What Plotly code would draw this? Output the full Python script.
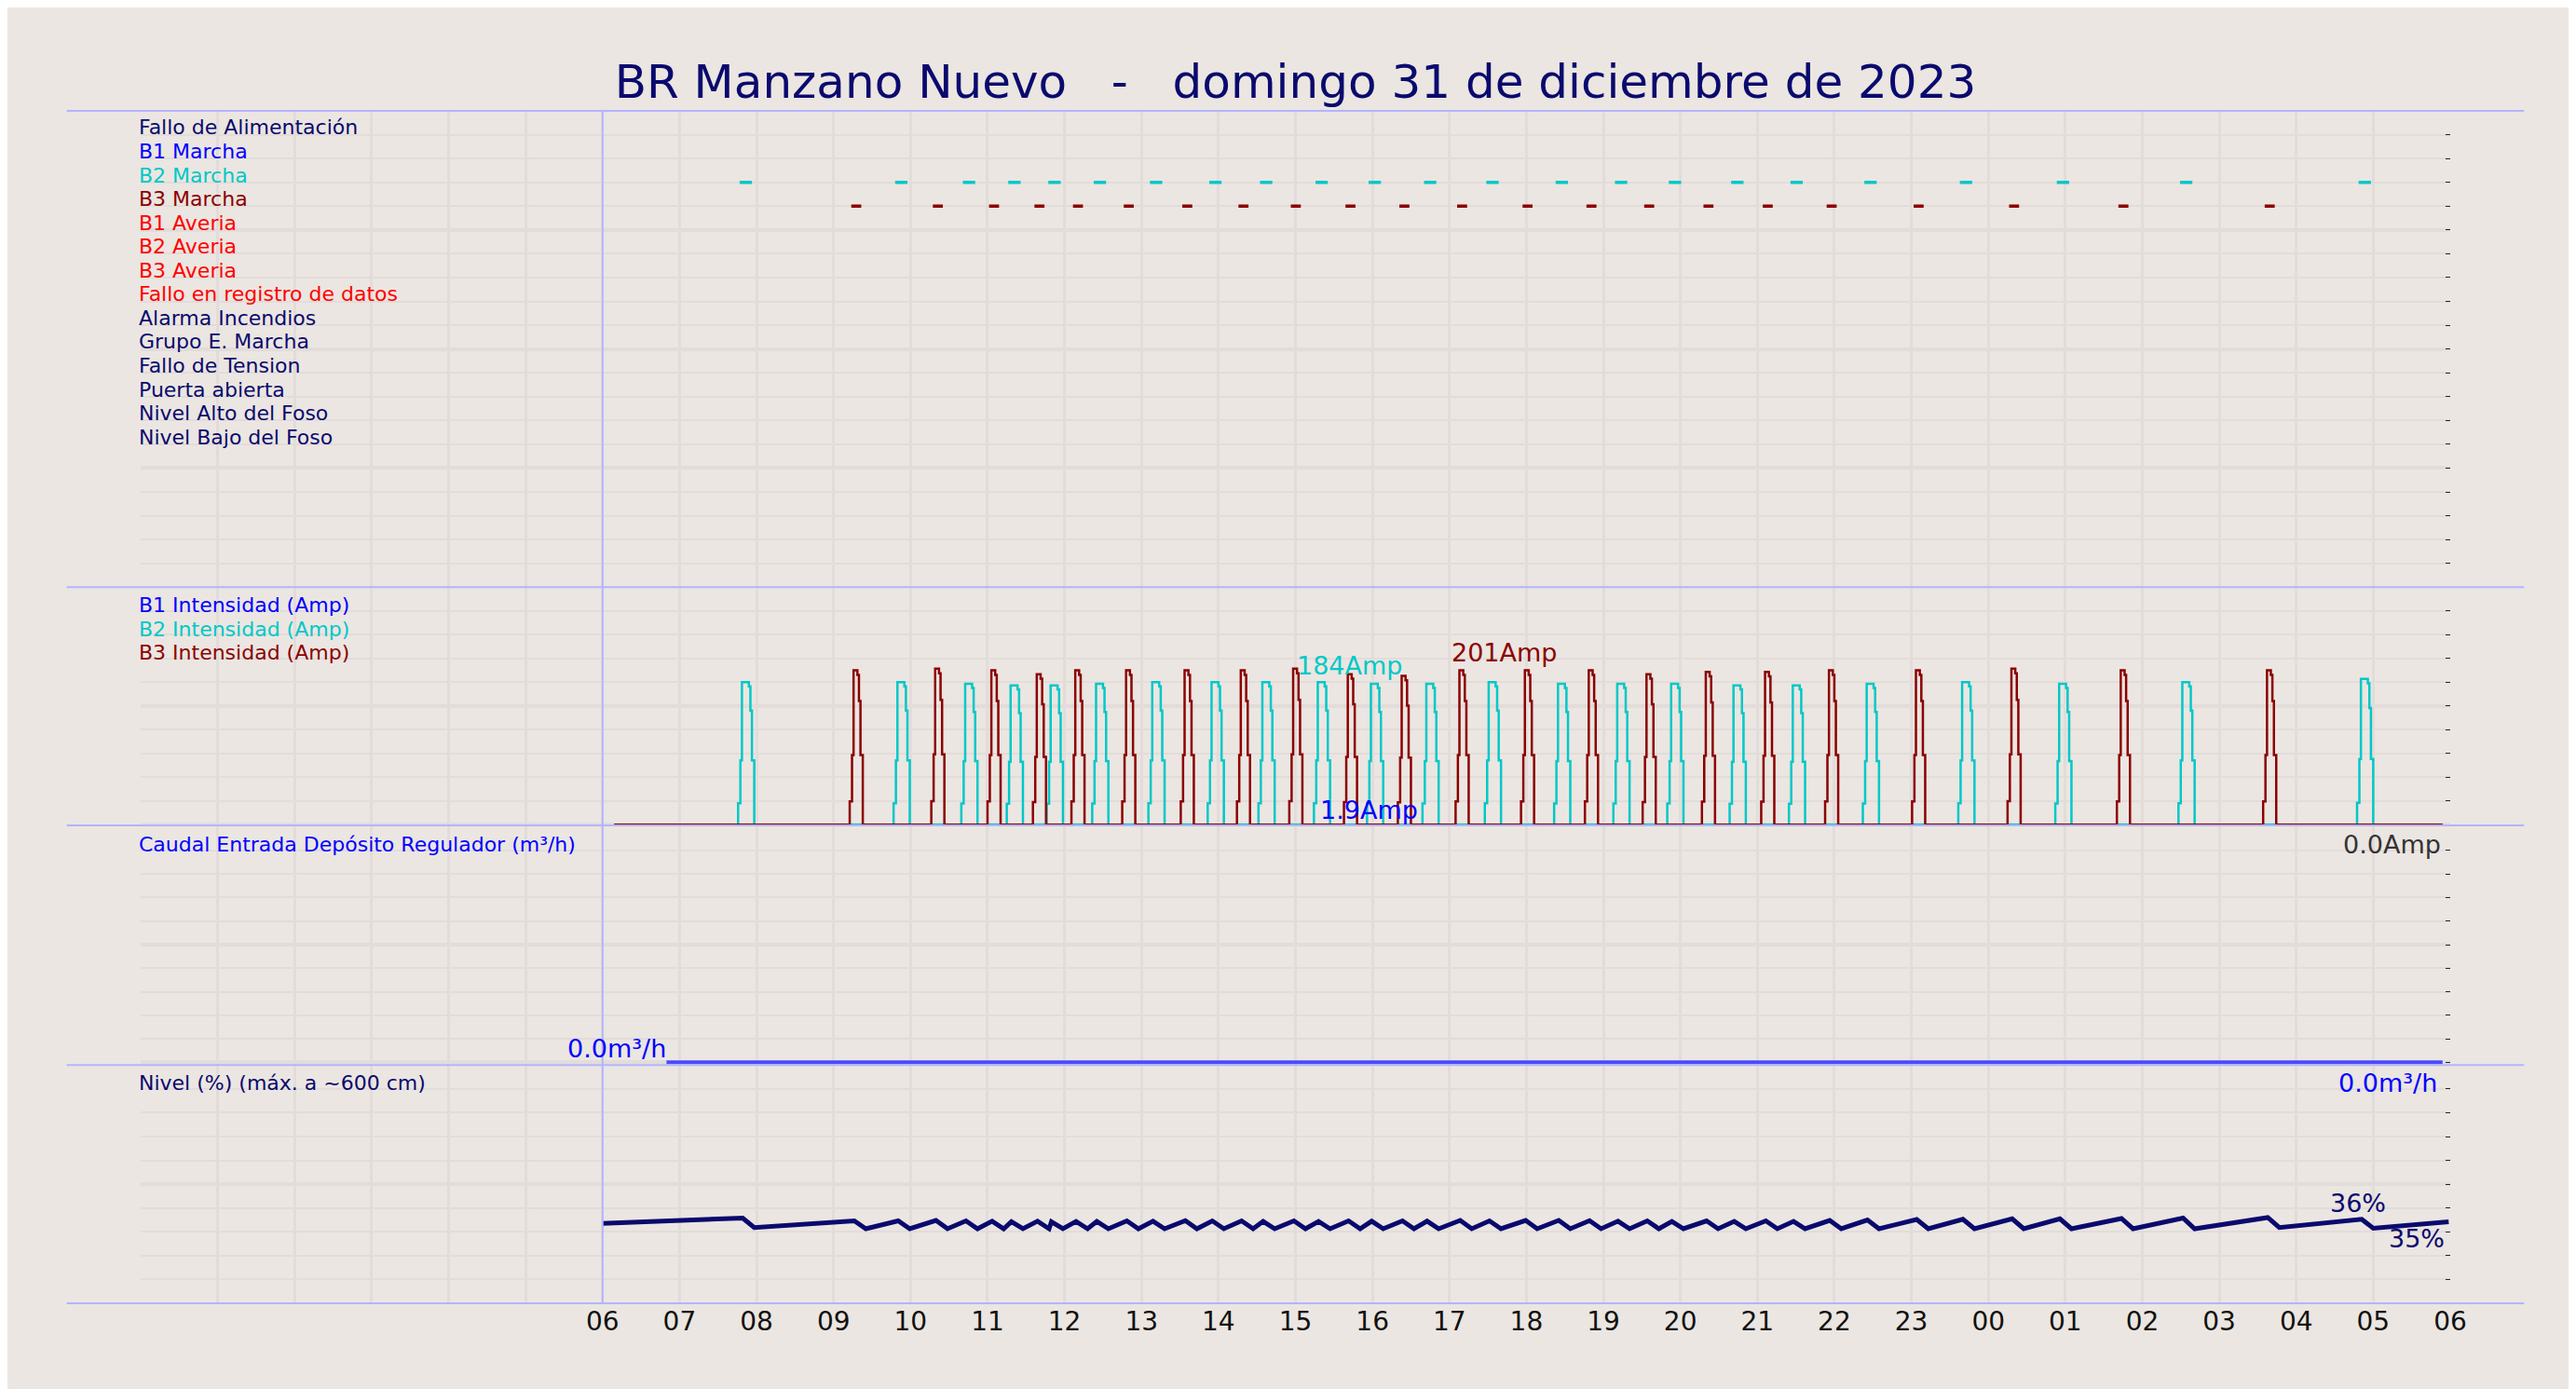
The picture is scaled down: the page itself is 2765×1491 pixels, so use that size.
import plotly.graph_objects as go
from plotly.subplots import make_subplots

title = "BR Manzano Nuevo   -   domingo 31 de diciembre de 2023"
hour_vals = list(range(0, 31))
hour_text = [""] * 6 + ["06","07","08","09","10","11","12","13","14","15","16","17","18","19","20","21","22","23","00","01","02","03","04","05","06"]

signal_labels = ["Fallo de Alimentación","B1 Marcha","B2 Marcha","B3 Marcha","B1 Averia","B2 Averia","B3 Averia",
                 "Fallo en registro de datos","Alarma Incendios","Grupo E. Marcha","Fallo de Tension","Puerta abierta",
                 "Nivel Alto del Foso","Nivel Bajo del Foso"]
signal_colors = ["#0a0a6e","#0000ff","#00c8c8","#8b0000","#ff0000","#ff0000","#ff0000","#ff0000",
                 "#0a0a6e","#0a0a6e","#0a0a6e","#0a0a6e","#0a0a6e","#0a0a6e"]

# pump start times (hours from 00:00 Dec 31)
b2_start = [7.76,9.78,10.66,11.25,11.77,12.36,13.09,13.86,14.52,15.24,15.93,16.65,17.46,18.36,19.13,19.83,20.64,21.41,22.37,23.61,24.87,26.47,28.79]
b2_peak = [180,180,178,176,176,178,180,180,180,180,178,178,180,178,178,178,176,176,178,180,178,180,184]
b3_start = [9.21,10.27,11.00,11.59,12.09,12.75,13.51,14.24,14.92,15.63,16.33,17.08,17.93,18.76,19.51,20.28,21.05,21.88,23.01,24.25,25.67,27.57]
b3_peak = [195,197,195,190,195,195,195,195,197,190,188,195,195,195,190,193,193,195,195,197,195,195]
b2_dur = 0.21
b3_dur = 0.17

# level (%): (time, value) pairs, peak before pump start then trough after
lvl_points = [(6.0,33.5),(7.82,35.8),(7.97,31.8),(9.27,34.6),(9.42,31.3),(9.84,34.6),(9.99,31.3),(10.33,34.8),(10.48,31.3),
    (10.72,34.6),(10.87,31.3),(11.06,34.5),(11.21,31.3),(11.31,34.3),(11.46,31.3),(11.65,34.5),(11.80,31.3),(11.83,34.2),(11.98,31.3),
    (12.15,34.4),(12.30,31.3),(12.42,34.4),(12.57,31.3),(12.81,34.6),(12.96,31.3),(13.15,34.5),(13.30,31.3),(13.57,34.7),(13.72,31.3),
    (13.92,34.6),(14.07,31.3),(14.30,34.6),(14.45,31.3),(14.58,34.4),(14.73,31.3),(14.98,34.6),(15.13,31.3),(15.30,34.4),(15.45,31.3),
    (15.69,34.6),(15.84,31.3),(15.99,34.5),(16.14,31.3),(16.39,34.6),(16.54,31.3),(16.71,34.5),(16.86,31.3),(17.14,34.8),(17.29,31.3),
    (17.52,34.6),(17.67,31.3),(17.99,34.8),(18.14,31.3),(18.42,34.8),(18.57,31.3),(18.82,34.7),(18.97,31.3),(19.19,34.5),(19.34,31.3),
    (19.57,34.6),(19.72,31.3),(19.89,34.4),(20.04,31.3),(20.34,34.6),(20.49,31.3),(20.70,34.4),(20.85,31.3),(21.11,34.6),(21.26,31.3),
    (21.47,34.4),(21.62,31.3),(21.94,34.8),(22.09,31.3),(22.43,35.0),(22.58,31.3),(23.07,35.2),(23.22,31.3),(23.67,35.3),(23.82,31.3),
    (24.31,35.5),(24.46,31.3),(24.93,35.5),(25.08,31.3),(25.73,35.6),(25.88,31.3),(26.53,35.8),(26.68,31.3),(27.63,36.0),(27.78,31.8),
    (28.85,35.3),(29.00,31.5),(29.98,34.2)]
lvl_t = [p[0] for p in lvl_points]
lvl_v = [p[1] for p in lvl_points]

caudal_t = [6.83, 29.9]
caudal_v = [0.0, 0.0]

BG = "#ebe6e1"
GRID = "#e2dcda"
NAVY = "#0a0a6e"
CYAN = "#00c8c8"
DRED = "#8b0000"

fig = make_subplots(rows=4, cols=1, shared_xaxes=True, vertical_spacing=0,
                    row_heights=[290, 146, 145, 145])

def seg(starts, dur, level):
    xs, ys = [], []
    for s in starts:
        xs += [s + 0.02, s + 0.02 + dur, None]
        ys += [level, level, None]
    return xs, ys

x, y = seg(b2_start, 0.16, 17)
fig.add_trace(go.Scatter(x=x, y=y, mode="lines", line=dict(color=CYAN, width=3.5)), row=1, col=1)
x, y = seg(b3_start, 0.13, 16)
fig.add_trace(go.Scatter(x=x, y=y, mode="lines", line=dict(color=DRED, width=3.5)), row=1, col=1)

def pulses(starts, peaks, dur):
    xs, ys = [6.15], [0]
    for s, p in zip(starts, peaks):
        xs += [s, s, s + 0.03, s + 0.05, s + dur - 0.07, s + dur - 0.05, s + dur - 0.03, s + dur]
        ys += [0, 0.15 * p, 0.45 * p, p, 0.97 * p, 0.8 * p, 0.45 * p, 0]
    xs.append(29.9); ys.append(0)
    return xs, ys

x, y = pulses(b2_start, b2_peak, b2_dur)
fig.add_trace(go.Scatter(x=x, y=y, mode="lines", line=dict(color=CYAN, width=2.5, shape="hv")), row=2, col=1)
x, y = pulses(b3_start, b3_peak, b3_dur)
fig.add_trace(go.Scatter(x=x, y=y, mode="lines", line=dict(color=DRED, width=2.5, shape="hv")), row=2, col=1)

fig.add_trace(go.Scatter(x=caudal_t, y=caudal_v, mode="lines", line=dict(color="#4a4aff", width=4)), row=3, col=1)
fig.add_trace(go.Scatter(x=lvl_t, y=lvl_v, mode="lines", line=dict(color=NAVY, width=5)), row=4, col=1)

yranges = [(0, 20, 1, 0), (0, 300, 30, 3), (0, 10, 1, 0.12), (0, 100, 10, 0)]
for i, (a, b, d, pad) in enumerate(yranges, start=1):
    fig.update_yaxes(range=[a - pad, b], dtick=5 * d, tick0=a, showgrid=True, gridcolor=GRID, gridwidth=4,
                     minor=dict(dtick=d, tick0=a, showgrid=True, gridcolor=GRID, gridwidth=2, ticks="inside", ticklen=5, tickcolor="#222"),
                     side="right", ticks="inside", ticklen=5, tickcolor="#222", showticklabels=False,
                     zeroline=False, showline=False, fixedrange=True, row=i, col=1)
    fig.update_xaxes(range=[0, 30], tickvals=hour_vals, ticktext=hour_text, showgrid=True, gridcolor=GRID,
                     gridwidth=3, zeroline=False, showline=False, ticks="", showticklabels=(i == 4),
                     tickfont=dict(size=28, color="#111"), row=i, col=1)

lf = 22
ann = []
for k, (lab, col) in enumerate(zip(signal_labels, signal_colors)):
    ann.append(dict(x=0, y=19.3 - k, xref="x", yref="y", text=lab, showarrow=False, xanchor="left", xshift=-4,
                    yanchor="middle", font=dict(size=lf, color=col)))
for k, (lab, col) in enumerate([("B1 Intensidad (Amp)", "#0000ff"), ("B2 Intensidad (Amp)", CYAN), ("B3 Intensidad (Amp)", DRED)]):
    ann.append(dict(x=0, y=277 - 30 * k, xref="x2", yref="y2", text=lab, showarrow=False, xanchor="left", xshift=-4,
                    yanchor="middle", font=dict(size=lf, color=col)))
ann.append(dict(x=0, y=9.25, xref="x3", yref="y3", text="Caudal Entrada Depósito Regulador (m³/h)", showarrow=False,
                xanchor="left", xshift=-4, yanchor="middle", font=dict(size=lf, color="#0000ff")))
ann.append(dict(x=0, y=92.5, xref="x4", yref="y4", text="Nivel (%) (máx. a ~600 cm)", showarrow=False,
                xanchor="left", xshift=-4, yanchor="middle", font=dict(size=lf, color=NAVY)))
big = 27
ann += [
    dict(x=15.7, y=201, xref="x2", yref="y2", text="184Amp", showarrow=False, font=dict(size=big, color=CYAN)),
    dict(x=17.0, y=217, xref="x2", yref="y2", text="201Amp", showarrow=False, font=dict(size=big, color=DRED), xanchor="left"),
    dict(x=15.3, y=19, xref="x2", yref="y2", text="1.9Amp", showarrow=False, font=dict(size=big, color="#0000ff"), xanchor="left"),
    dict(x=29.9, y=9.25, xref="x3", yref="y3", text="0.0Amp", showarrow=False, font=dict(size=big, color="#333"), xanchor="right"),
    dict(x=6.85, y=0.6, xref="x3", yref="y3", text="0.0m³/h", showarrow=False, font=dict(size=big, color="#0000ff"), xanchor="right"),
    dict(x=29.85, y=92.5, xref="x4", yref="y4", text="0.0m³/h", showarrow=False, font=dict(size=big, color="#0000ff"), xanchor="right"),
    dict(x=28.8, y=42, xref="x4", yref="y4", text="36%", showarrow=False, font=dict(size=big, color=NAVY)),
    dict(x=29.95, y=27, xref="x4", yref="y4", text="35%", showarrow=False, font=dict(size=big, color=NAVY), xanchor="right"),
]

shapes = []
for yy in [0, 145 / 726, 291 / 726, 436 / 726, 1]:
    shapes.append(dict(type="line", xref="paper", yref="paper", x0=-0.032, x1=1.032, y0=yy, y1=yy,
                       line=dict(color="#b4b4ff", width=2)))
shapes.append(dict(type="line", xref="x", yref="paper", x0=6, x1=6, y0=0, y1=1, line=dict(color="#b4b4ff", width=2)))

fig.update_layout(
    width=2765, height=1491, paper_bgcolor=BG, plot_bgcolor=BG, showlegend=False,
    margin=dict(l=143, r=143, t=111, b=100),
    title=dict(text=title, x=0.5, xanchor="center", y=0.947, yanchor="middle", font=dict(size=50, color=NAVY, family="DejaVu Sans")),
    font=dict(family="DejaVu Sans"),
    annotations=ann, shapes=shapes,
)
fig.write_html("out.html")
